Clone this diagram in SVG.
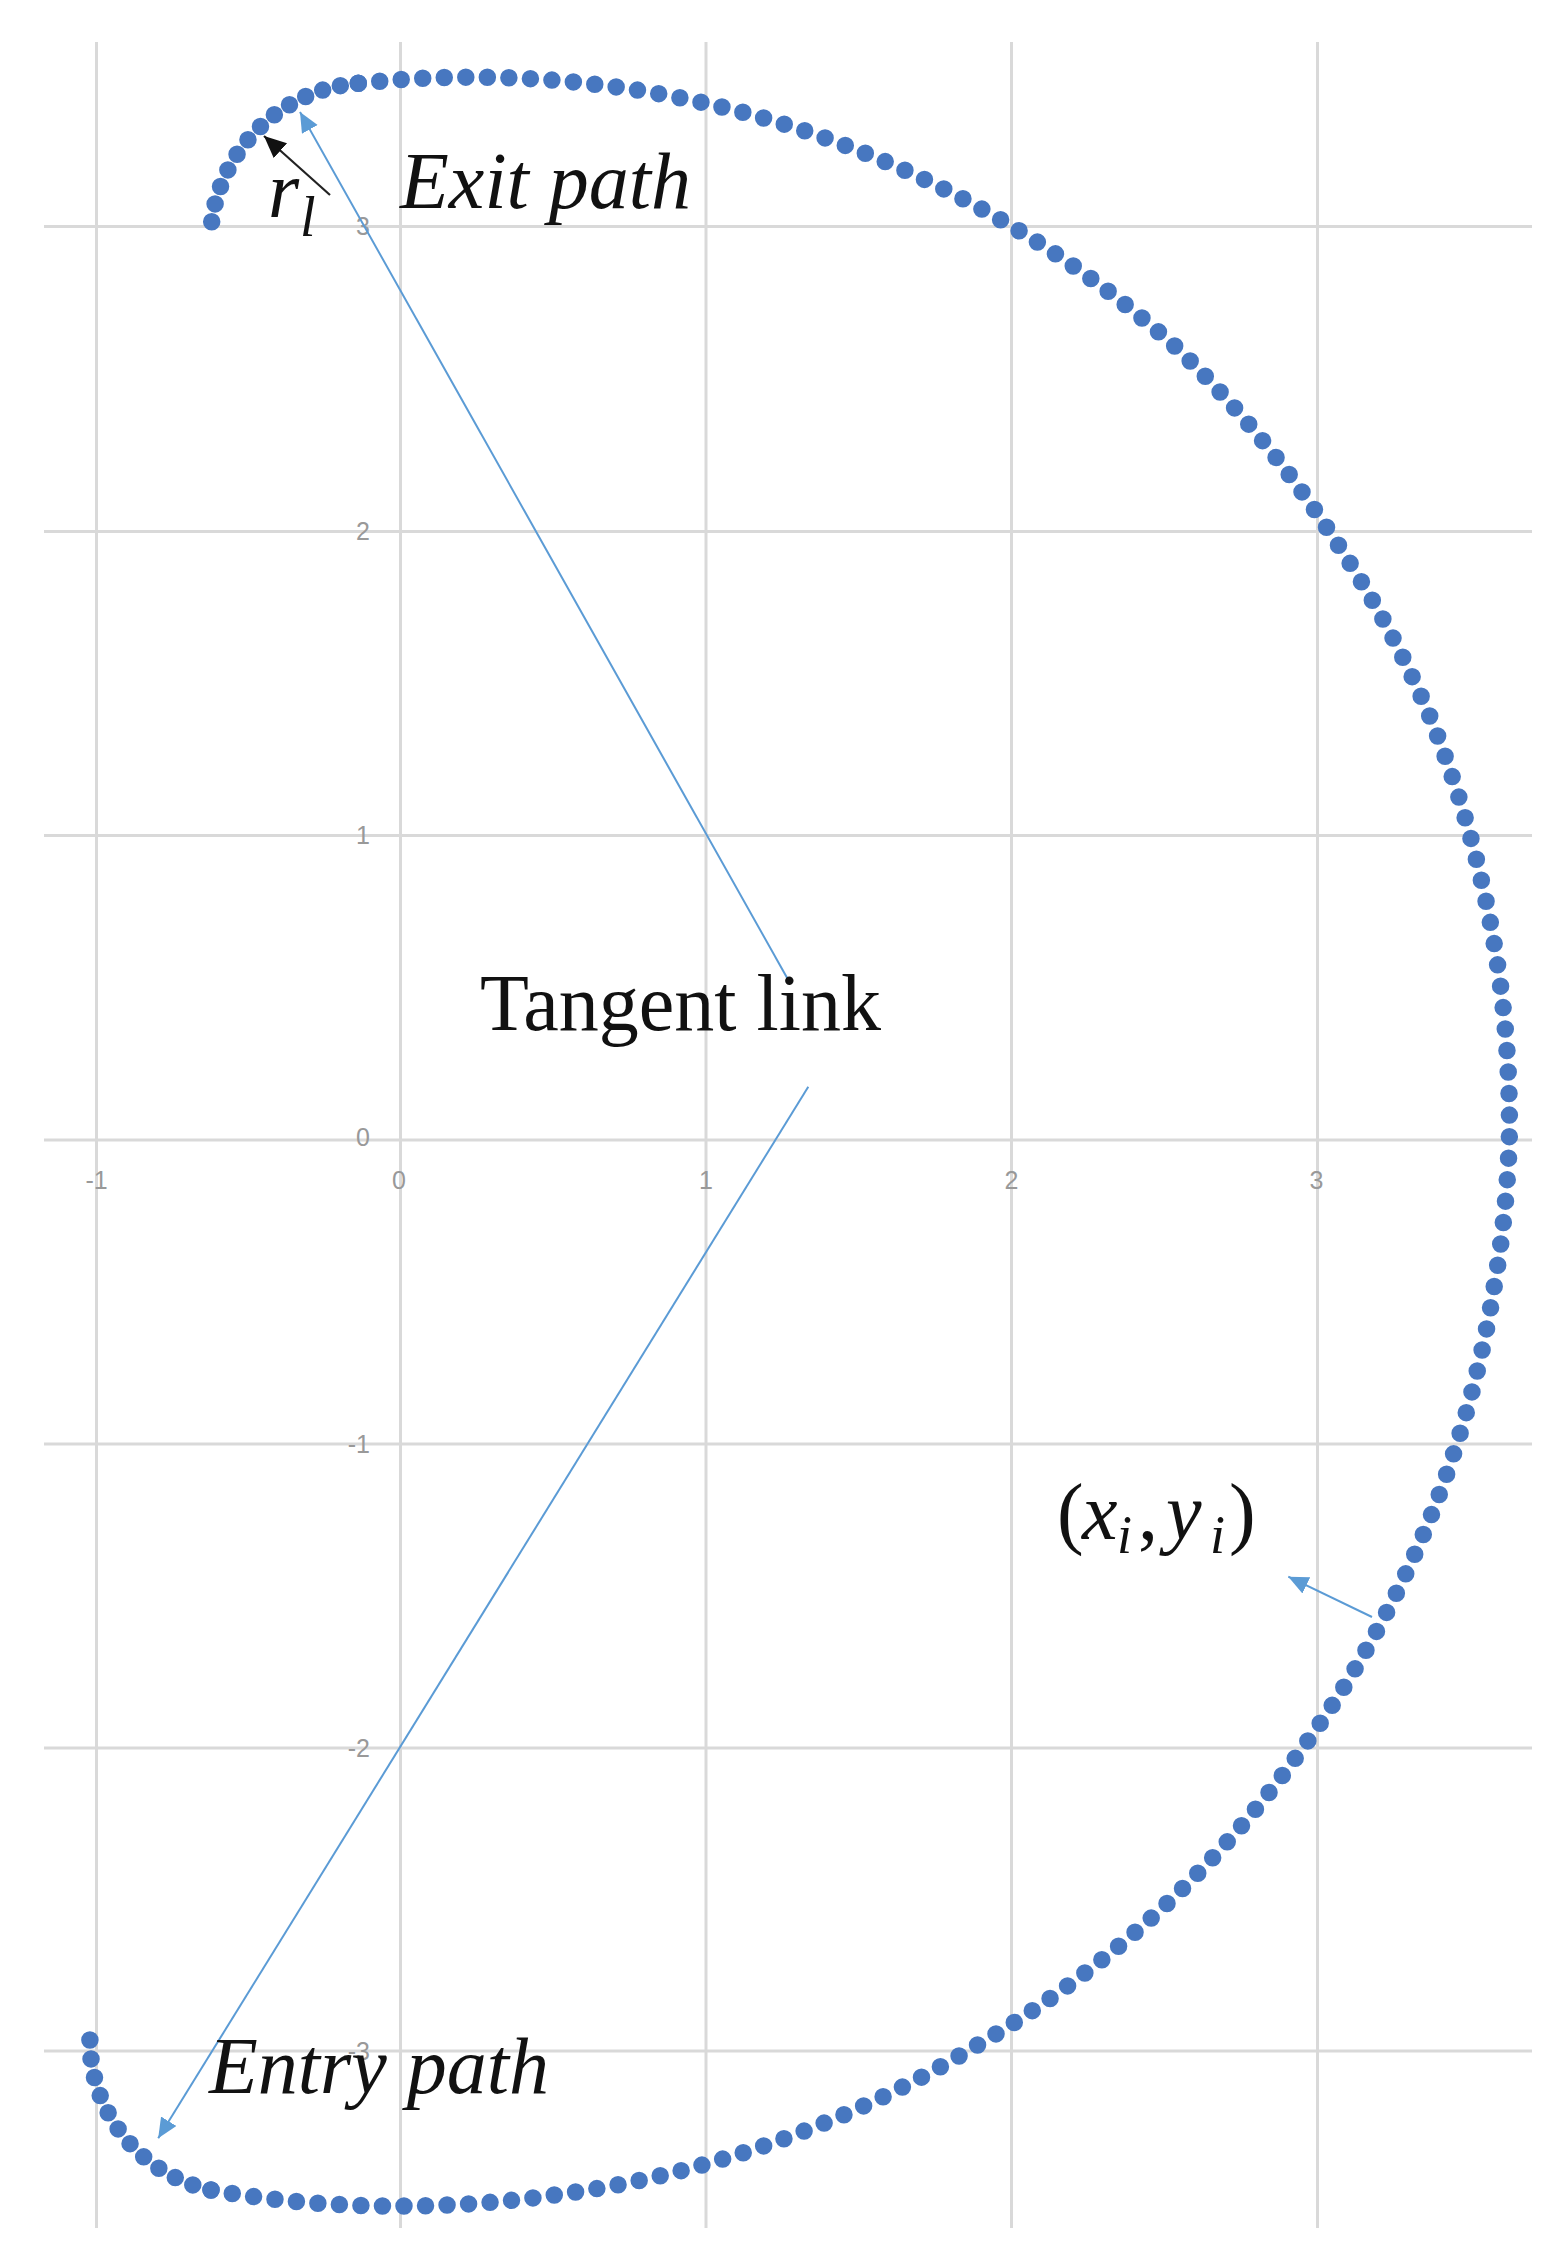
<svg xmlns="http://www.w3.org/2000/svg" width="1563" height="2259" viewBox="0 0 1563 2259">
<style>
.grid line{stroke:#d9d9d9;stroke-width:3}
.tick{font-family:"Liberation Sans",Arial,sans-serif;font-size:25px;fill:#999}
.dots{fill:none;stroke:#4777c0;stroke-width:17.5;stroke-linecap:round;stroke-dasharray:0 1}
.lbl{font-family:"Liberation Serif","Times New Roman",serif;font-size:80px;fill:#111}
.it{font-style:italic}
.blue{stroke:#5b9bd5;stroke-width:2;fill:none}
.black{stroke:#222;stroke-width:2.2;fill:none}
</style>
<defs>
<marker id="ahBlue" markerWidth="22" markerHeight="20" refX="20" refY="9" orient="auto" markerUnits="userSpaceOnUse"><path d="M0,0 L20,9 L0,18 z" fill="#5b9bd5"/></marker>
<marker id="ahBlack" markerWidth="24" markerHeight="22" refX="22" refY="10" orient="auto" markerUnits="userSpaceOnUse"><path d="M0,0 L22,10 L0,20 z" fill="#111"/></marker>
</defs>
<rect width="1563" height="2259" fill="#fff"/>
<g id="grid" class="grid">
<line x1="96.5" y1="42" x2="96.5" y2="2228"/>
<line x1="400.5" y1="42" x2="400.5" y2="2228"/>
<line x1="706" y1="42" x2="706" y2="2228"/>
<line x1="1011.5" y1="42" x2="1011.5" y2="2228"/>
<line x1="1317.5" y1="42" x2="1317.5" y2="2228"/>
<line x1="44" y1="226.5" x2="1532" y2="226.5"/>
<line x1="44" y1="531.5" x2="1532" y2="531.5"/>
<line x1="44" y1="835.5" x2="1532" y2="835.5"/>
<line x1="44" y1="1140" x2="1532" y2="1140"/>
<line x1="44" y1="1444" x2="1532" y2="1444"/>
<line x1="44" y1="1748" x2="1532" y2="1748"/>
<line x1="44" y1="2051" x2="1532" y2="2051"/>
</g>
<g id="axis-labels" class="tick">
<g text-anchor="end">
<text x="370" y="235">3</text>
<text x="370" y="540">2</text>
<text x="370" y="844">1</text>
<text x="370" y="1146">0</text>
<text x="370" y="1453">-1</text>
<text x="370" y="1757">-2</text>
<text x="370" y="2060">-3</text>
</g>
<g text-anchor="middle">
<text x="96.5" y="1189">-1</text>
<text x="399" y="1189">0</text>
<text x="706" y="1189">1</text>
<text x="1011.5" y="1189">2</text>
<text x="1316.5" y="1189">3</text>
</g>
</g>
<g id="path-points">
<path id="exit-arc" class="dots" pathLength="12.001" d="M211.7,221.7 A160,160 0 0 1 358.3,83.3"/>
<path id="main-arc" class="dots" pathLength="170.001" d="M358.3,83.3 A1065,1065 0 0 1 560,80.7 A1065,1065 0 0 1 787,125 A1065,1065 0 0 1 1004,221.7 A1065,1065 0 0 1 1178.3,349.3 A1065,1065 0 0 1 1328.3,530 A1065,1065 0 0 1 1430,716.7 A1065,1065 0 0 1 1481.7,881.7 A1065,1065 0 0 1 1509.3,1140 A1065,1065 0 0 1 1493.3,1291.7 A1065,1065 0 0 1 1381.7,1621.7 A1065,1065 0 0 1 1300,1751.7 A1065,1065 0 0 1 1153.5,1916 A1065,1065 0 0 1 974.6,2046.7 A1065,1065 0 0 1 772.8,2142.7 A1065,1065 0 0 1 554.6,2195 A1065,1065 0 0 1 400.5,2206 A1065,1065 0 0 1 211,2190"/>
<path id="entry-arc" class="dots" pathLength="11.001" d="M211,2190 A153,153 0 0 1 89.9,2040"/>
</g>
<g id="connectors">
<line class="blue" x1="788.3" y1="980" x2="300" y2="112" marker-end="url(#ahBlue)"/>
<line class="blue" x1="808.3" y1="1086.7" x2="158.2" y2="2138.3" marker-end="url(#ahBlue)"/>
<line class="blue" x1="1372" y1="1617" x2="1288.3" y2="1576.7" marker-end="url(#ahBlue)"/>
<line class="black" x1="330" y1="195" x2="264" y2="136" marker-end="url(#ahBlack)"/>
</g>
<g id="label-exit"><text class="lbl it" x="400" y="208">Exit path</text></g>
<g id="label-rl"><text class="lbl it" x="268" y="217">r<tspan x="300" y="236" font-size="56">l</tspan></text></g>
<g id="label-tangent"><text class="lbl" x="480" y="1030">Tangent link</text></g>
<g id="label-entry"><text class="lbl it" x="209" y="2093">Entry path</text></g>
<g id="label-xy"><text class="lbl" y="1539"><tspan x="1057">(</tspan><tspan class="it" x="1082">x</tspan><tspan class="it" x="1117" y="1553" font-size="54">i</tspan><tspan x="1138" y="1539">,</tspan><tspan class="it" x="1166">y</tspan><tspan class="it" x="1210" y="1553" font-size="54">i</tspan><tspan x="1229" y="1539">)</tspan></text></g>
</svg>
